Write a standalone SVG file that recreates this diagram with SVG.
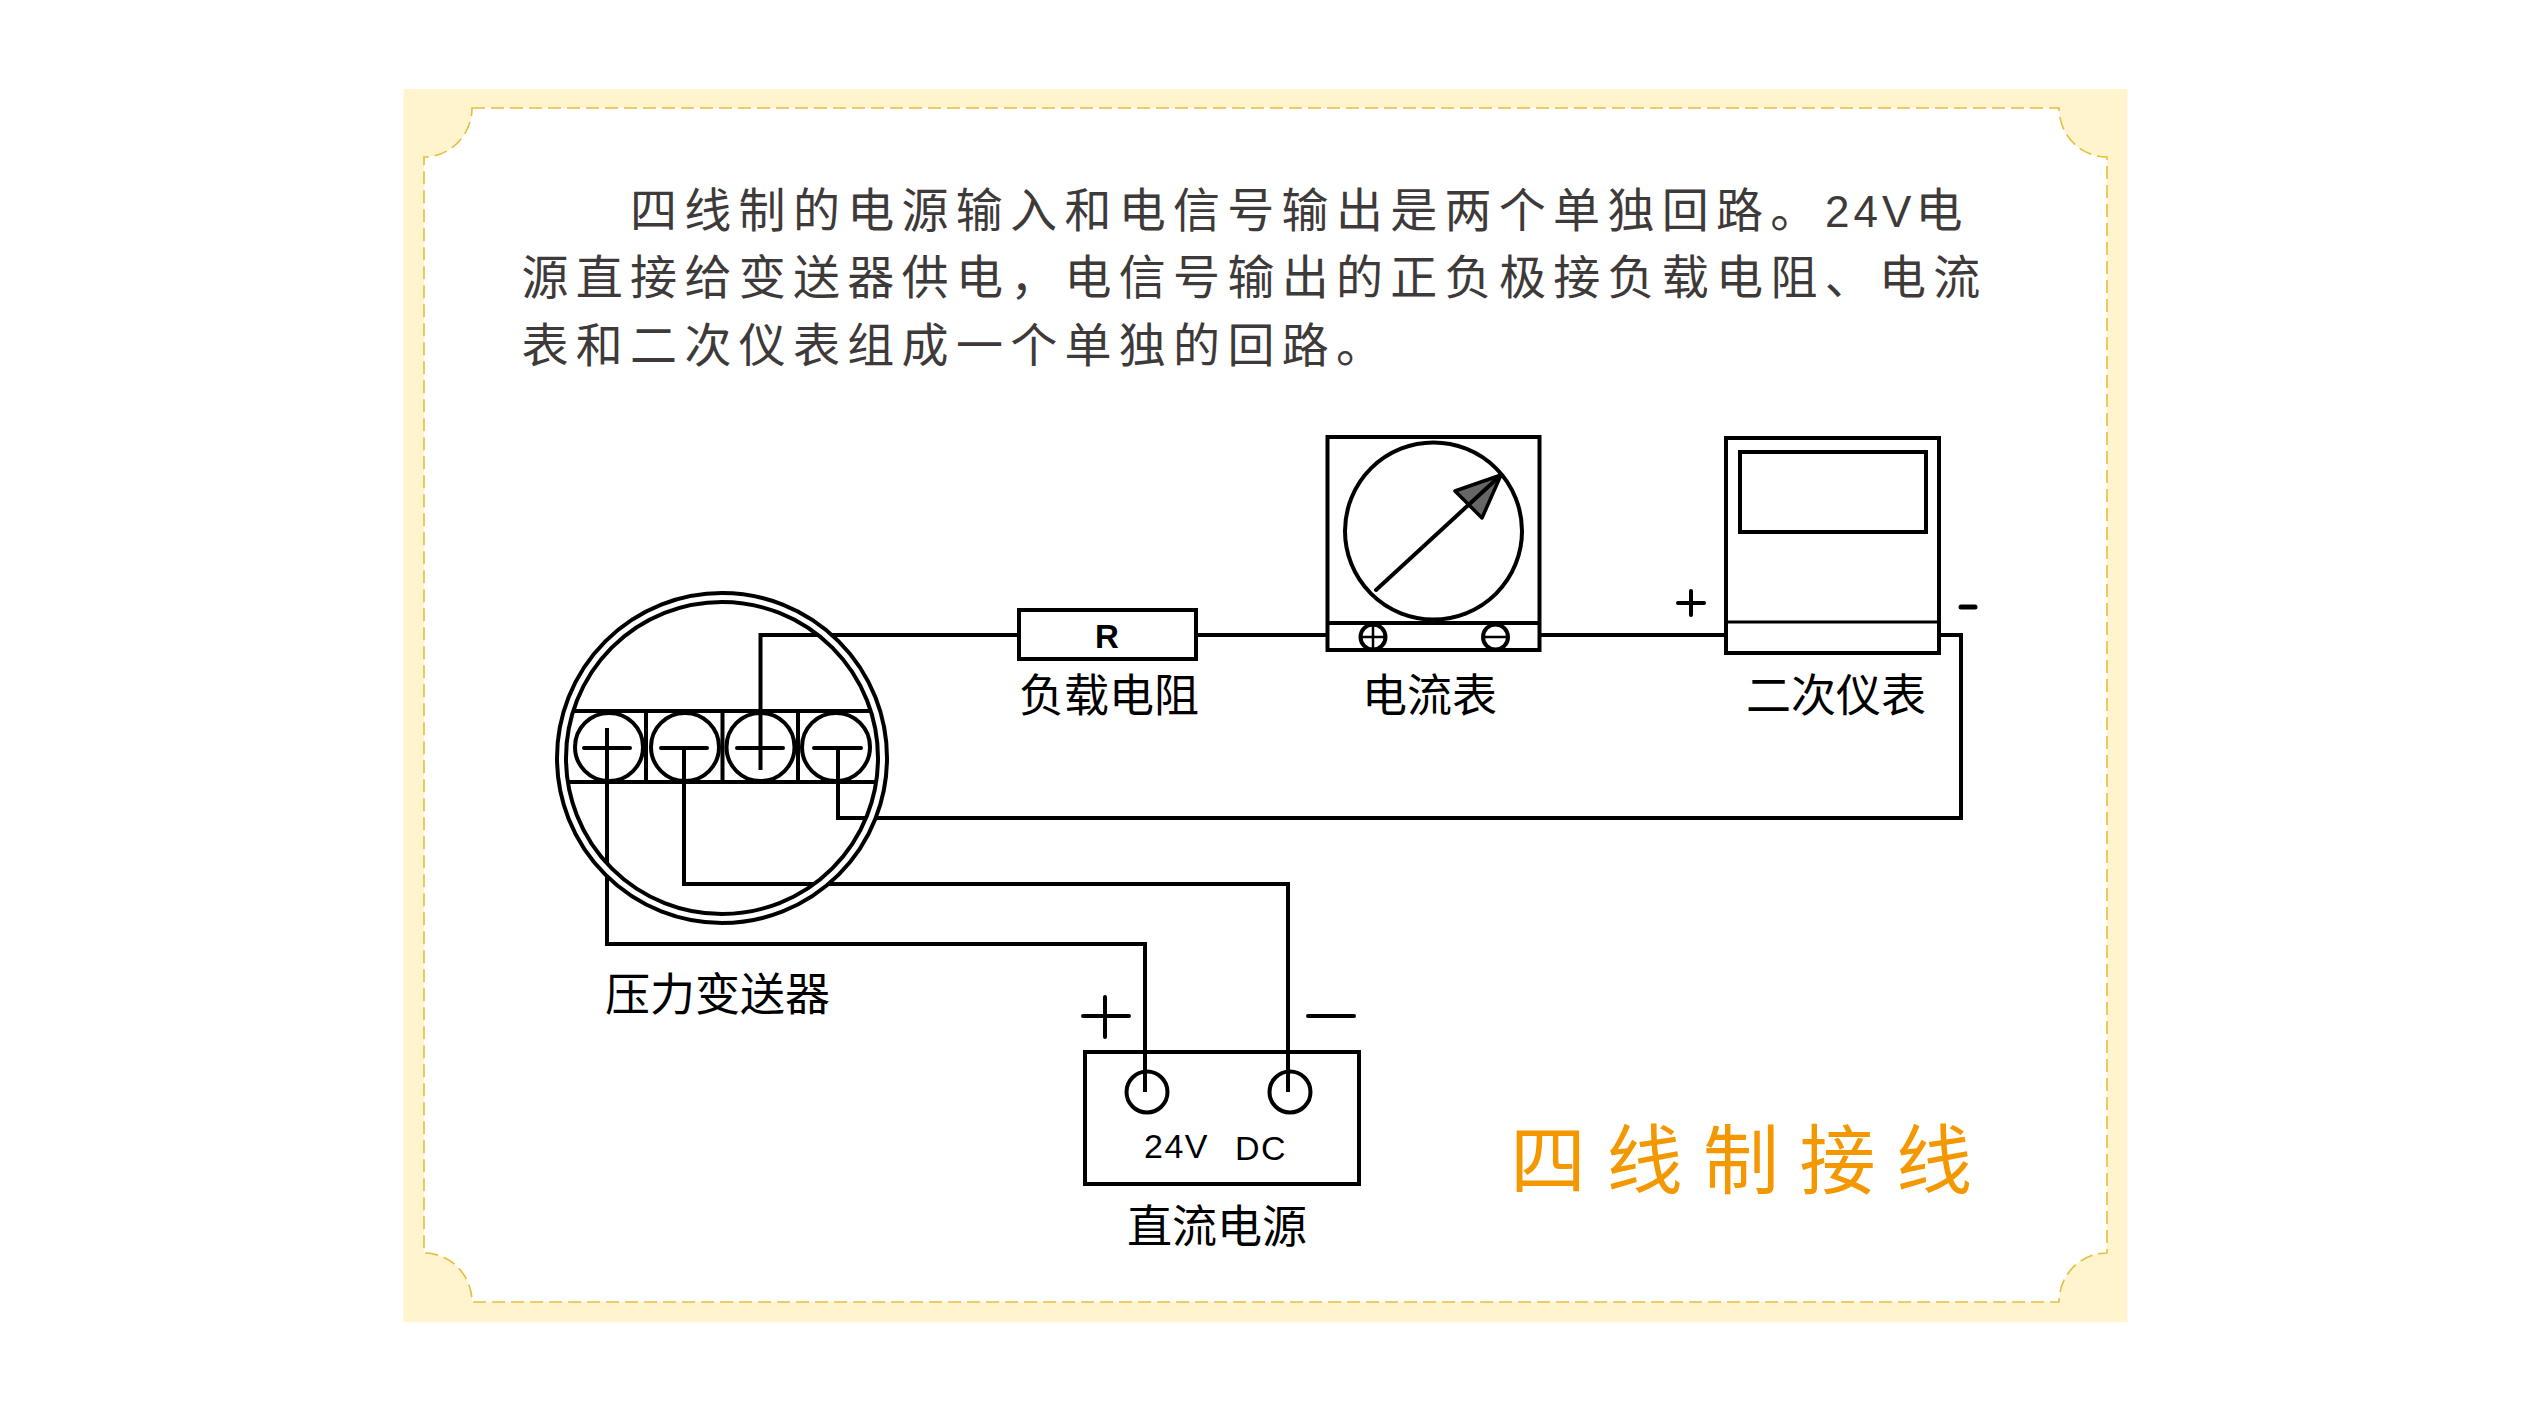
<svg xmlns="http://www.w3.org/2000/svg" width="2528" height="1422" viewBox="0 0 2528 1422">
<style>
.k{fill:none;stroke:#000;stroke-width:4}
.t{font-family:"Liberation Sans","Noto Sans CJK SC",sans-serif;fill:#000}
.l{font-size:45px}
.b{font-size:47px;letter-spacing:7.300px;fill:#3e3a39}
</style>
<rect width="2528" height="1422" fill="#fff"/>
<g id="panel">
<rect x="403.500" y="89" width="1724" height="1233" fill="#fff4ce"/>
<path d="M472 108H2059A48 49 0 0 0 2107 157V1253A48 49 0 0 0 2059 1302H472A48 49 0 0 0 424 1253V157A48 49 0 0 0 472 108Z" fill="#fff" stroke="#e5be3b" stroke-width="1.6" stroke-dasharray="13 6"/>
</g>
<g id="description">
<text class="t b" x="630" y="227">四线制的电源输入和电信号输出是两个单独回路。<tspan x="1825" letter-spacing="4" font-size="44">24V</tspan><tspan x="1915.500">电</tspan></text>
<text class="t b" x="521.500" y="294">源直接给变送器供电&#xFF0C;电信号输出的正负极接负载电阻、电流</text>
<text class="t b" x="521.500" y="362">表和二次仪表组成一个单独的回路。</text>
</g>
<g id="connectors" class="k">
<path d="M760.500 770V635H1019"/>
<path d="M1196 635H1328"/>
<path d="M1540 635H1726"/>
<path d="M1939 635H1961V818H838V748"/>
<path d="M607 728V944H1145V1092"/>
<path d="M684 748V884H1288V1092"/>
</g>
<g id="transmitter">
<circle cx="722" cy="758" r="160.500" fill="none" stroke="#fff" stroke-width="6"/>
<circle class="k" cx="722" cy="758" r="165"/>
<circle class="k" cx="722" cy="758" r="156"/>
<path class="k" d="M575 711H869M568 782H876M646 711V782M722.500 711V782M798 711V782"/>
<circle class="k" cx="609" cy="747" r="34"/>
<circle class="k" cx="685" cy="747" r="34"/>
<circle class="k" cx="760.500" cy="747" r="34"/>
<circle class="k" cx="836" cy="747" r="34"/>
<path class="k" stroke-linecap="round" d="M584 748H630M661 748H707M737 748H783M814 748H861"/>
<text class="t l" x="605" y="1011">压力变送器</text>
</g>
<g id="resistor">
<rect class="k" x="1019" y="610" width="177" height="49"/>
<text class="t" x="1107" y="648" font-size="33" font-weight="700" text-anchor="middle">R</text>
<text class="t l" x="1019" y="712">负载电阻</text>
</g>
<g id="ammeter">
<rect class="k" x="1327.500" y="437" width="212" height="213"/>
<path class="k" d="M1327.500 623H1539.500"/>
<circle class="k" cx="1433.500" cy="531" r="88.500"/>
<path d="M1455 491L1501 475L1482 518Z" fill="#666" stroke="#000" stroke-width="3.500" stroke-linejoin="round"/>
<path class="k" stroke-linecap="round" d="M1376 590L1501 475"/>
<circle class="k" cx="1373" cy="637" r="12.500"/>
<path d="M1360.500 637H1385.500M1373 624.500V649.500M1483 637H1508" fill="none" stroke="#000" stroke-width="2.500"/>
<circle class="k" cx="1495.500" cy="637" r="12.500"/>
<text class="t l" x="1362" y="712">电流表</text>
</g>
<g id="meter">
<rect class="k" x="1726" y="438" width="213" height="215"/>
<path d="M1726 622H1939" fill="none" stroke="#000" stroke-width="3"/>
<rect class="k" x="1740" y="452" width="186" height="80"/>
<path class="k" stroke-linecap="round" d="M1678 603H1704M1691 591V615"/>
<path d="M1961 607H1975" fill="none" stroke="#000" stroke-width="5" stroke-linecap="round"/>
<text class="t l" x="1746" y="712">二次仪表</text>
</g>
<g id="power">
<rect class="k" x="1085" y="1052" width="274" height="132"/>
<circle class="k" cx="1147" cy="1092" r="20.500"/>
<circle class="k" cx="1290" cy="1092" r="20.500"/>
<path class="k" stroke-linecap="round" d="M1083 1016H1129M1105 997V1037M1308 1016H1354"/>
<text class="t" x="1144" y="1158" font-size="34" letter-spacing="1.500">24V</text>
<text class="t" x="1235" y="1160" font-size="34" letter-spacing="1.500">DC</text>
<text class="t l" x="1127" y="1243">直流电源</text>
</g>
<g id="title">
<text class="t" x="1510" y="1188" font-size="76" letter-spacing="20.500" style="fill:#f39800">四线制接线</text>
</g>
</svg>
